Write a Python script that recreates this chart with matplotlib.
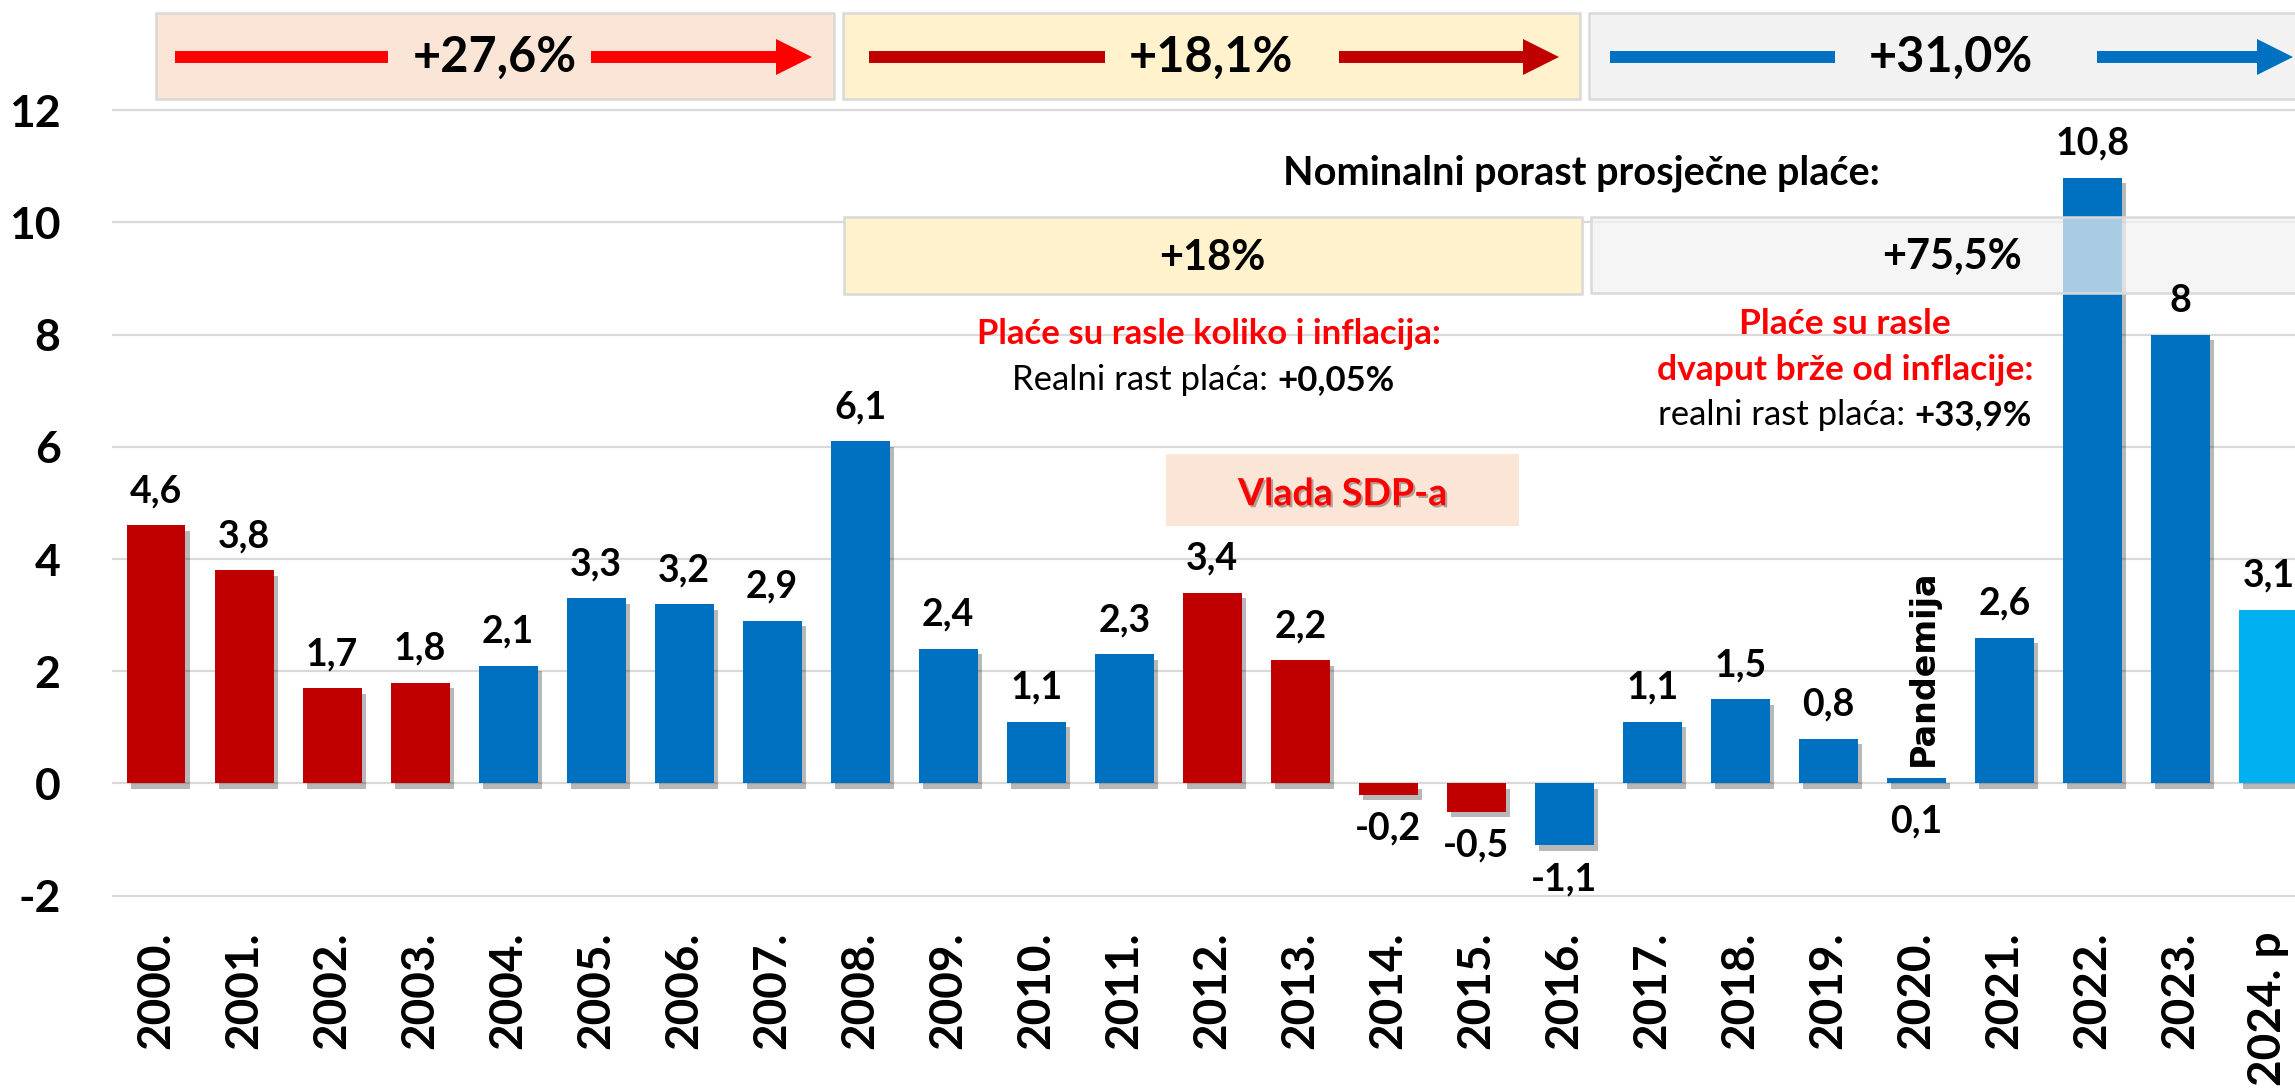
import matplotlib
matplotlib.use("Agg")
import matplotlib.pyplot as plt
import matplotlib.patheffects as pe
from matplotlib.patches import Rectangle

# ---------------- data ----------------
years = ["2000.", "2001.", "2002.", "2003.", "2004.", "2005.", "2006.", "2007.",
         "2008.", "2009.", "2010.", "2011.", "2012.", "2013.", "2014.", "2015.",
         "2016.", "2017.", "2018.", "2019.", "2020.", "2021.", "2022.", "2023.",
         "2024. p"]
values = [4.6, 3.8, 1.7, 1.8, 2.1, 3.3, 3.2, 2.9, 6.1, 2.4, 1.1, 2.3, 3.4, 2.2,
          -0.2, -0.5, -1.1, 1.1, 1.5, 0.8, 0.1, 2.6, 10.8, 8.0, 3.1]
value_labels = ["4,6", "3,8", "1,7", "1,8", "2,1", "3,3", "3,2", "2,9", "6,1", "2,4",
                "1,1", "2,3", "3,4", "2,2", "-0,2", "-0,5", "-1,1", "1,1", "1,5",
                "0,8", "0,1", "2,6", "10,8", "8", "3,1"]
# colour group of each year: H = red, B = blue, F = forecast (light blue)
period = ["H", "H", "H", "H", "B", "B", "B", "B", "B", "B", "B", "B", "H", "H",
          "H", "H", "B", "B", "B", "B", "B", "B", "B", "B", "F"]
period_growth = ["+27,6%", "+18,1%", "+31,0%"]
nominal_growth = ["+18%", "+75,5%"]
yticks = [-2, 0, 2, 4, 6, 8, 10, 12]

# ---------------- style ----------------
RED = "#C00000"
BLUE = "#0070C0"
LBLUE = "#00B0F0"
BRIGHT_RED = "#FF0000"
PEACH = "#FBE5D6"
YELLOW = "#FFF2CC"
GREY = "#F2F2F2"
EDGE = "#D9D9D9"
color_map = {"H": RED, "B": BLUE, "F": LBLUE}

plt.rcParams["font.family"] = ["Lato", "DejaVu Sans"]

W, H = 2295, 1089
fig = plt.figure(figsize=(W / 100, H / 100), dpi=100)
ax_left = 112 / W
ax_right_px = 2312.5
ax_bottom = 1 - 898.5 / H
ax = fig.add_axes([ax_left, ax_bottom, (ax_right_px - 112) / W, 1 - ax_bottom])
ax.set_xlim(-0.5, 24.5)
ax.set_ylim(-2.05, 13.966)

for s in ax.spines.values():
    s.set_visible(False)
ax.set_yticks(yticks)
ax.set_yticklabels([str(t) for t in yticks], fontsize=32, fontweight="bold")
ax.tick_params(axis="y", length=0, pad=37)
ax.set_xticks(range(len(years)))
ax.set_xticklabels(years, rotation=90, fontsize=33, fontweight="bold", va="top")
ax.tick_params(axis="x", length=0, pad=24)
ax.grid(axis="y", color=EDGE, linewidth=1.6, zorder=0)
ax.set_axisbelow(True)

# ---------------- bars ----------------
xs = list(range(len(values)))
bar_colors = [color_map[p] for p in period]
bars = ax.bar(xs, values, width=0.67, color=bar_colors, zorder=3, linewidth=0)
for b in bars:
    b.set_path_effects([pe.SimplePatchShadow(offset=(3, -4), shadow_rgbFace="black", alpha=0.28),
                        pe.Normal()])

for x, v, lab, yr in zip(xs, values, value_labels, years):
    if yr.startswith("2020"):
        ax.annotate(lab, (x, 0), xytext=(0, -35), textcoords="offset points",
                    ha="center", va="baseline", fontsize=27, fontweight="bold", zorder=6)
    elif v >= 0:
        ax.annotate(lab, (x, v), xytext=(0, 16.5), textcoords="offset points",
                    ha="center", va="baseline", fontsize=27, fontweight="bold", zorder=6)
    else:
        ax.annotate(lab, (x, v), xytext=(0, -32.5), textcoords="offset points",
                    ha="center", va="baseline", fontsize=27, fontweight="bold", zorder=6)

# ---------------- top period boxes with arrows ----------------
top_y0, top_y1 = 12.20, 13.74
line_y = 12.95
top_boxes = [  # x0, x1, text x, line, arrow, colour, fill
    (0.0, 7.70, 3.85, (0.22, 2.64), (4.94, 7.45), BRIGHT_RED, PEACH),
    (7.80, 16.18, 11.99, (8.10, 10.78), (13.44, 15.94), RED, YELLOW),
    (16.28, 24.6, 20.39, (16.52, 19.08), (22.05, 24.28), BLUE, GREY),
]
head_len = 36 / 88.0
for (x0, x1, tx, ln, ar, col, fill), txt in zip(top_boxes, period_growth):
    ax.add_patch(Rectangle((x0, top_y0), x1 - x0, top_y1 - top_y0, facecolor=fill,
                           edgecolor=EDGE, linewidth=1.8, zorder=1))
    ax.text(tx, 12.68, txt, ha="center", va="baseline", fontsize=35, fontweight="bold", zorder=5)
    ax.plot(ln, [line_y, line_y], color=col, linewidth=8.6, solid_capstyle="butt", zorder=4)
    ax.plot([ar[0], ar[1] - head_len], [line_y, line_y], color=col, linewidth=8.6,
            solid_capstyle="butt", zorder=4)
    ax.plot([ar[1] - head_len / 2], [line_y], marker=">", markersize=26, color=col,
            markeredgewidth=0, zorder=4)

# ---------------- nominal growth boxes ----------------
ax.text(16.19, 10.67, "Nominalni porast prosječne plaće:", ha="center", va="baseline",
        fontsize=28.5, fontweight="bold", zorder=5)
ax.add_patch(Rectangle((7.82, 8.72), 16.20 - 7.82, 10.10 - 8.72, facecolor=YELLOW,
                       edgecolor=EDGE, linewidth=1.8, zorder=1))
ax.add_patch(Rectangle((16.30, 8.74), 24.6 - 16.30, 10.10 - 8.74,
                       facecolor=(0.949, 0.949, 0.949, 0.7), edgecolor=EDGE,
                       linewidth=1.8, zorder=4))
ax.text(12.0, 9.16, nominal_growth[0], ha="center", va="baseline", fontsize=30,
        fontweight="bold", zorder=5)
ax.text(20.4, 9.17, nominal_growth[1], ha="center", va="baseline", fontsize=30,
        fontweight="bold", zorder=5)

# ---------------- annotations ----------------
ax.text(11.96, 7.83, "Plaće su rasle koliko i inflacija:", ha="center", va="baseline",
        fontsize=25, fontweight="bold", color=BRIGHT_RED, zorder=5)
ax.text(19.19, 8.01, "Plaće su rasle", ha="center", va="baseline",
        fontsize=25.5, fontweight="bold", color=BRIGHT_RED, zorder=5)
ax.text(19.19, 7.19, "dvaput brže od inflacije:", ha="center", va="baseline",
        fontsize=25.5, fontweight="bold", color=BRIGHT_RED, zorder=5)

renderer = fig.canvas.get_renderer()


def mixed_line(xc, y, parts, size):
    texts = []
    widths = []
    for s, w in parts:
        t = ax.text(0, y, s, ha="left", va="baseline", fontsize=size, fontweight=w, zorder=5)
        texts.append(t)
        widths.append(t.get_window_extent(renderer).width)
    a1 = ax.text(0, y, "a a", fontsize=size)
    a2 = ax.text(0, y, "aa", fontsize=size)
    space = a1.get_window_extent(renderer).width - a2.get_window_extent(renderer).width
    a1.remove()
    a2.remove()
    total = sum(widths) + space * (len(parts) - 1)
    xc_px = ax.transData.transform((xc, y))[0]
    start = xc_px - total / 2
    inv = ax.transData.inverted()
    for t, w in zip(texts, widths):
        t.set_x(inv.transform((start, 0))[0])
        start += w + space


mixed_line(11.9, 7.01, [("Realni rast plaća:", "normal"), ("+0,05%", "bold")], 25)
mixed_line(19.19, 6.39, [("realni rast plaća:", "normal"), ("+33,9%", "bold")], 25)

# Vlada SDP-a box
ax.add_patch(Rectangle((11.47, 4.59), 15.48 - 11.47, 5.87 - 4.59, facecolor=PEACH,
                       edgecolor="none", zorder=1))
ax.text(13.48, 4.96, "Vlada SDP-a", ha="center", va="baseline", fontsize=27,
        fontweight="bold", color=BRIGHT_RED, zorder=5,
        path_effects=[pe.withSimplePatchShadow(offset=(1.5, -1.5), shadow_rgbFace="black", alpha=0.3)])

# Pandemija
ax.text(20.08, 2.06, "Pandemija", rotation=90, ha="center", va="center", fontsize=24,
        fontweight="bold", family=["DejaVu Sans"], zorder=5)

fig.savefig("out.png", dpi=100)
